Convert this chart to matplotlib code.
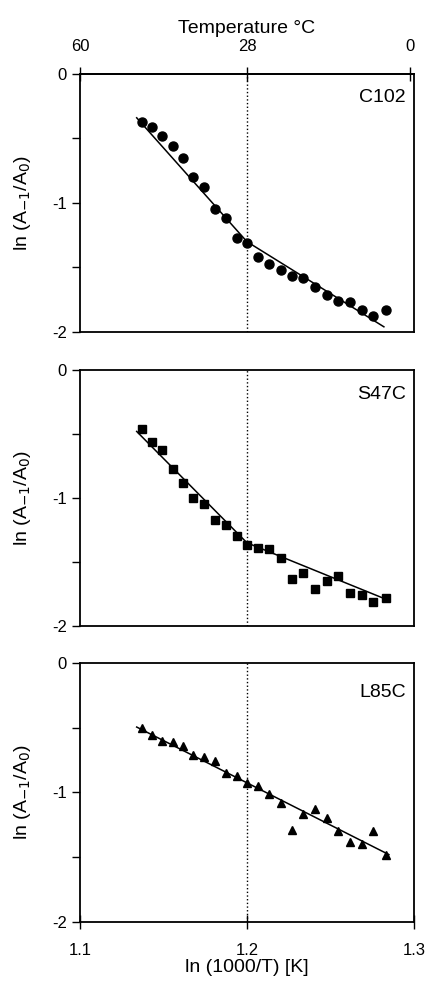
import numpy as np
import matplotlib
matplotlib.use('Agg')
import matplotlib.pyplot as plt

plt.rcParams['font.family'] = ['Liberation Sans', 'DejaVu Sans']

# x values (ln(1000/T)) shared by all three samples
x = [1.1369, 1.1429, 1.1493, 1.1555, 1.1615, 1.1679, 1.1743, 1.1808, 1.1872,
     1.1938, 1.2002, 1.2068, 1.2134, 1.2204, 1.2269, 1.2337, 1.2407, 1.2477,
     1.2547, 1.2617, 1.2687, 1.2756, 1.2830]

c102 = [-0.37, -0.41, -0.48, -0.56, -0.65, -0.80, -0.88, -1.05, -1.12, -1.27,
        -1.31, -1.42, -1.47, -1.52, -1.57, -1.58, -1.65, -1.71, -1.76, -1.77,
        -1.83, -1.88, -1.83]
s47c = [-0.46, -0.56, -0.625, -0.77, -0.88, -1.00, -1.05, -1.17, -1.21, -1.30,
        -1.37, -1.39, -1.40, -1.47, -1.63, -1.59, -1.71, -1.65, -1.61, -1.745,
        -1.76, -1.81, -1.78]
l85c = [-0.50, -0.555, -0.60, -0.61, -0.645, -0.71, -0.73, -0.76, -0.85, -0.87,
        -0.93, -0.95, -1.01, -1.08, -1.29, -1.17, -1.13, -1.20, -1.30, -1.385,
        -1.40, -1.295, -1.48]

# fitted lines (break points)
fit_c102_x = [1.134, 1.200, 1.282]
fit_c102_y = [-0.34, -1.30, -1.96]
fit_s47c_x = [1.134, 1.200, 1.283]
fit_s47c_y = [-0.48, -1.35, -1.79]
fit_l85c_x = [1.134, 1.285]
fit_l85c_y = [-0.495, -1.48]

temps_c = [60, 28, 0]

names = ['C102', 'S47C', 'L85C']
markers = ['o', 's', '^']
series = [c102, s47c, l85c]
fits = [(fit_c102_x, fit_c102_y), (fit_s47c_x, fit_s47c_y), (fit_l85c_x, fit_l85c_y)]
name_y = [0.907, 0.906, 0.885]

fig = plt.figure(figsize=(4.25, 9.83), dpi=100)
boxes = [[0.188, 0.6623, 0.786, 0.2625],
         [0.188, 0.3632, 0.786, 0.2604],
         [0.188, 0.0621, 0.786, 0.2635]]

def from_c(c):
    return np.log(1000.0 / (np.asarray(c, dtype=float) + 273.15))

for i in range(3):
    ax = fig.add_axes(boxes[i])
    ax.plot(x, series[i], linestyle='none', marker=markers[i], color='black',
            markersize=6.5 if markers[i] == 'o' else 6)
    ax.plot(fits[i][0], fits[i][1], color='black', lw=1.1)
    ax.axvline(1.2, color='black', linestyle=':', lw=1.0)
    ax.set_xlim(1.1, 1.3)
    ax.set_ylim(-2, 0)
    ax.set_yticks([0, -0.5, -1, -1.5, -2])
    ax.set_yticklabels(['0', '', '-1', '', '-2'])
    ax.tick_params(axis='y', direction='out', length=6, width=1, labelsize=12)
    ax.set_ylabel('ln (A$_{-1}$/A$_0$)', fontsize=14)
    ax.yaxis.set_label_coords(-0.14, 0.5)
    for s in ax.spines.values():
        s.set_linewidth(1.3)
    ax.text(0.975, name_y[i], names[i], transform=ax.transAxes, ha='right',
            va='center', fontsize=14)
    if i < 2:
        ax.set_xticks([])
    else:
        ax.set_xticks([1.1, 1.2, 1.3])
        ax.set_xticklabels(['1.1', '1.2', '1.3'])
        ax.tick_params(axis='x', direction='inout', length=10, width=1,
                       labelsize=12, pad=10)
        ax.set_xlabel('ln (1000/T) [K]', fontsize=14, labelpad=1)
    if i == 0:
        top = ax.secondary_xaxis('top')
        pos = np.clip(from_c(temps_c), 1.1, 1.3)
        top.set_xticks(pos)
        top.set_xticklabels([str(t) for t in temps_c])
        top.tick_params(direction='inout', length=10, width=1, labelsize=12, pad=9)
        top.set_xlabel('Temperature \u00b0C', fontsize=14, labelpad=5)
        top.spines['top'].set_linewidth(1.3)

fig.savefig('out.png', dpi=100)
